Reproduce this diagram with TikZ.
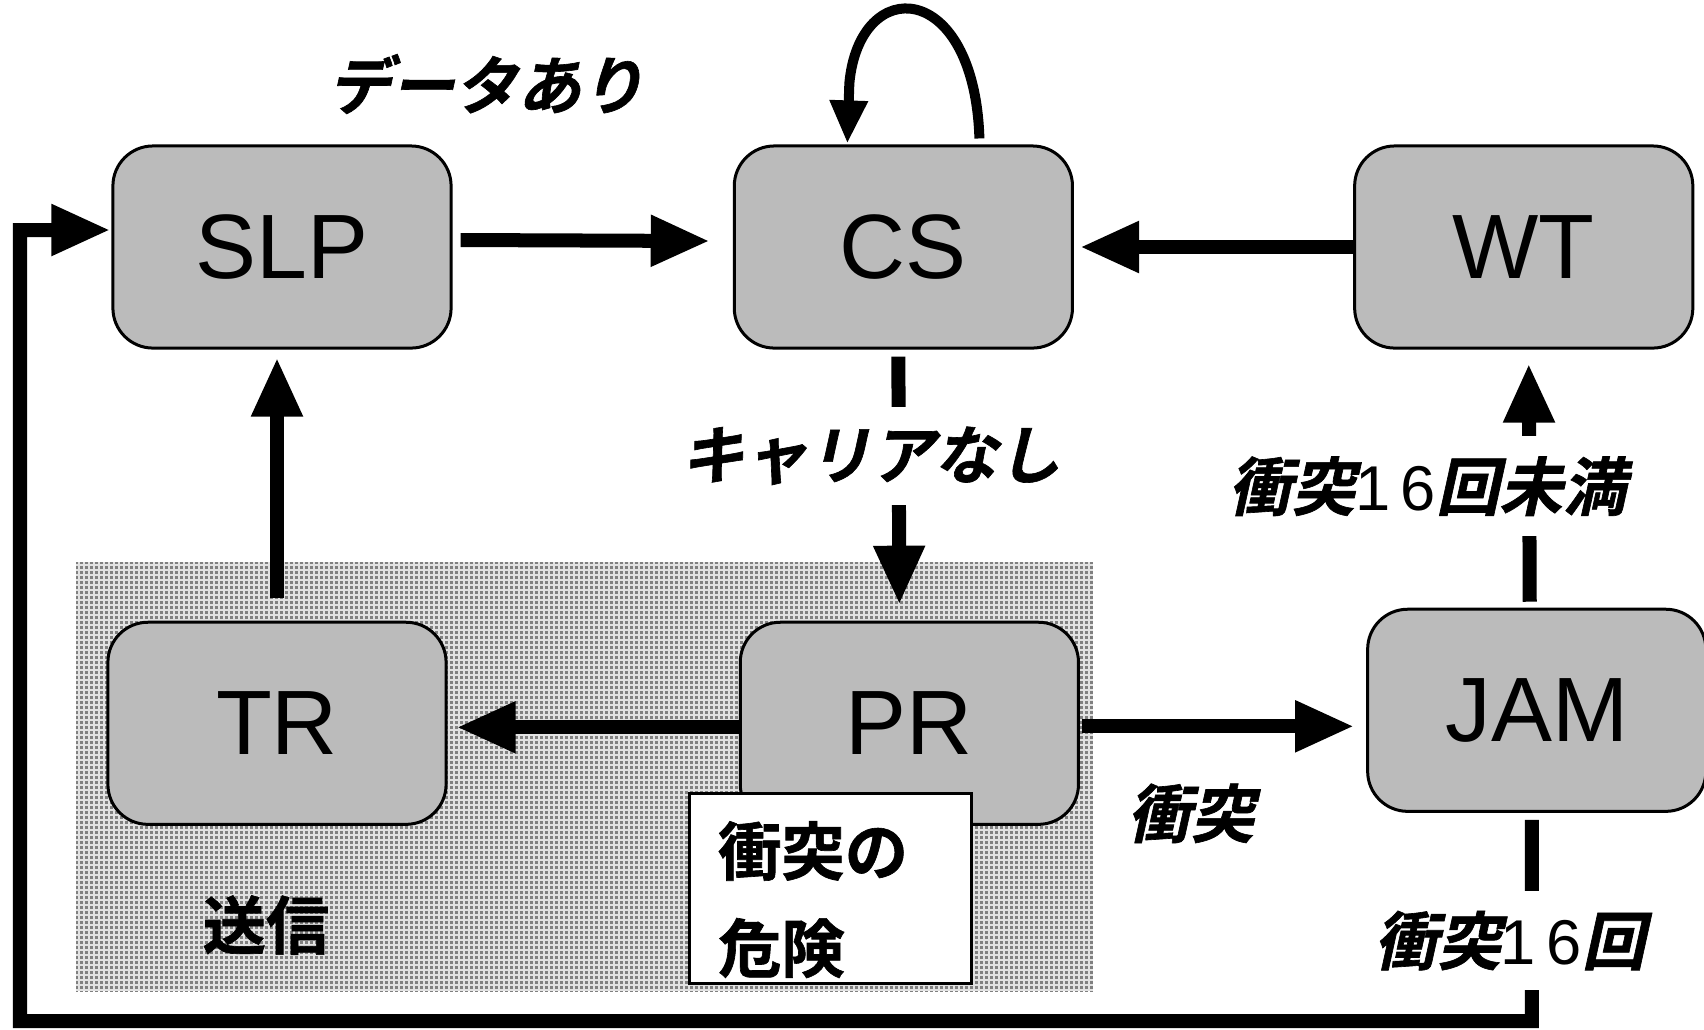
\documentclass[tikz,border=0pt]{standalone}
\usepackage{fontspec}
\usetikzlibrary{arrows.meta, positioning, patterns}

\newfontfamily\arial{Liberation Sans}
\IfFontExistsTF{Noto Sans CJK JP Bold}{%
	\newfontfamily\jpbold{Noto Sans CJK JP Bold}[FakeBold=1]
	\newfontfamily\jpslant{Noto Sans CJK JP Bold}[FakeBold=1, FakeSlant=0.22]
}{%
	\newfontfamily\jpbold{Noto Sans CJK JP}[FakeBold=2.5]
	\newfontfamily\jpslant{Noto Sans CJK JP}[FakeBold=2.5, FakeSlant=0.22]
}

\definecolor{boxgray}{HTML}{BBBBBB}
\definecolor{dotback}{HTML}{E2E2E2}
\definecolor{dotfore}{HTML}{808080}

% fine halftone dots for the transmit area
\pgfdeclarepatternformonly{halftone}{\pgfqpoint{0pt}{0pt}}{\pgfqpoint{1.42pt}{1.42pt}}{\pgfqpoint{1.42pt}{1.42pt}}{%
	\pgfpathrectangle{\pgfqpoint{0.35pt}{0.35pt}}{\pgfqpoint{0.72pt}{0.72pt}}\pgfusepath{fill}}

\begin{document}
\begin{tikzpicture}[
	x=0.01cm, y=-0.01cm,
	node distance=2.80cm, % gap between the state boxes
	state/.style={draw, line width=0.03cm, fill=boxgray, rounded corners=0.4cm, minimum width=3.38cm, minimum height=2.02cm, font=\arial\fontsize{26}{26}\selectfont},
	arrow/.style={line width=0.14cm, -{Triangle[length=0.59cm, width=0.48cm]}},
	loop_arrow/.style={line width=0.1cm, -{Triangle[length=0.43cm, width=0.36cm]}},
	cond/.style={font=\jpslant\fontsize{18}{18}\selectfont, fill=white, inner xsep=0.15cm, inner ysep=0.2cm},
	jp_bold/.style={font=\jpbold\fontsize{18}{27.6}\selectfont},
	riskbox/.style={draw, fill=white, line width=0.03cm, minimum width=2.81cm, minimum height=1.89cm, inner sep=0pt}
	]
	\useasboundingbox (0,0) rectangle (1704,1029);
	
	% --- Transmit area ---
	\fill[dotback] (76,562) rectangle (1093,991);
	\fill[pattern=halftone, pattern color=dotfore] (76,562) rectangle (1093,991);
	
	% --- Top row ---
	\node[state] (SLP) at (282,247) {SLP};
	\node[state, right=of SLP] (CS) {CS};
	\node[state, right=2.79cm of CS] (WT) {WT};
	
	% --- Bottom row ---
	\node[state, below=2.71cm of SLP, xshift=-0.05cm] (TR) {TR};
	\node[state, right=2.91cm of TR] (PR) {PR};
	\node[state, right=2.86cm of PR, yshift=0.13cm] (JAM) {JAM};
	
	% --- Texts in the transmit area ---
	\node[jp_bold] (sending) at (266,925) {送信};
	\node[riskbox] (risk) at (830.5,888.5) {};
	\node[jp_bold, align=left, inner sep=0pt, anchor=north west] (risk_text) at ([xshift=0.29cm, yshift=-0.28cm]risk.north west) {衝突の\\危険};
	
	\node[cond, fill=none] (has_data) at (486,84) {データあり};
	
	% Arrows for top row
	\draw[arrow] ([xshift=0.08cm, yshift=0.07cm]SLP.east) -- ([xshift=-0.23cm, yshift=0.06cm]CS.west);
	\draw[arrow] (WT.west) -- ([xshift=0.06cm]CS.east);
	\draw[loop_arrow] ([xshift=0.76cm, yshift=0.06cm]CS.north) .. controls +(-5,-160) and +(10,-110) .. ([xshift=-0.54cm, yshift=0.61cm]CS.north) -- ([xshift=-0.56cm, yshift=0.01cm]CS.north);
	
	% Vertical transitions
	\draw[arrow] ([xshift=-0.05cm, yshift=-0.07cm]CS.south) -- node[cond, pos=0.4, xshift=-0.28cm] (no_carrier) {キャリアなし} ([xshift=-0.1cm, yshift=0.16cm]PR.north);
	\draw[arrow] ([yshift=0.23cm]TR.north) -- ([xshift=-0.05cm, yshift=-0.08cm]SLP.south);
	\draw[arrow] ([xshift=-0.07cm, yshift=0.06cm]JAM.north) -- node[cond, pos=0.485, xshift=-1.02cm] (under_16) {衝突{\arial 1\,6}回未満} ([xshift=0.05cm, yshift=-0.14cm]WT.south);
	
	% Arrows for bottom row
	\draw[arrow] ([yshift=-0.04cm]PR.west) -- ([xshift=0.09cm, yshift=-0.04cm]TR.east);
	\draw[arrow] ([xshift=0.02cm, yshift=-0.03cm]PR.east) -- node[cond, pos=0.4, yshift=-0.87cm] (collision) {衝突} ([xshift=-0.12cm, yshift=-0.16cm]JAM.west);
	
	% --- Feedback from JAM back to SLP ---
	\coordinate (fb_bottom) at (20,1021);
	\coordinate (fb_top) at (20,230);
	\draw[arrow] ([xshift=-0.05cm, yshift=-0.07cm]JAM.south) |- node[cond, pos=0.3, xshift=-0.22cm] (at_16) {衝突{\arial 1\,6}回} (fb_bottom) -- (fb_top) -- ([xshift=-0.01cm, yshift=0.17cm]SLP.west);
	
\end{tikzpicture}
\end{document}
